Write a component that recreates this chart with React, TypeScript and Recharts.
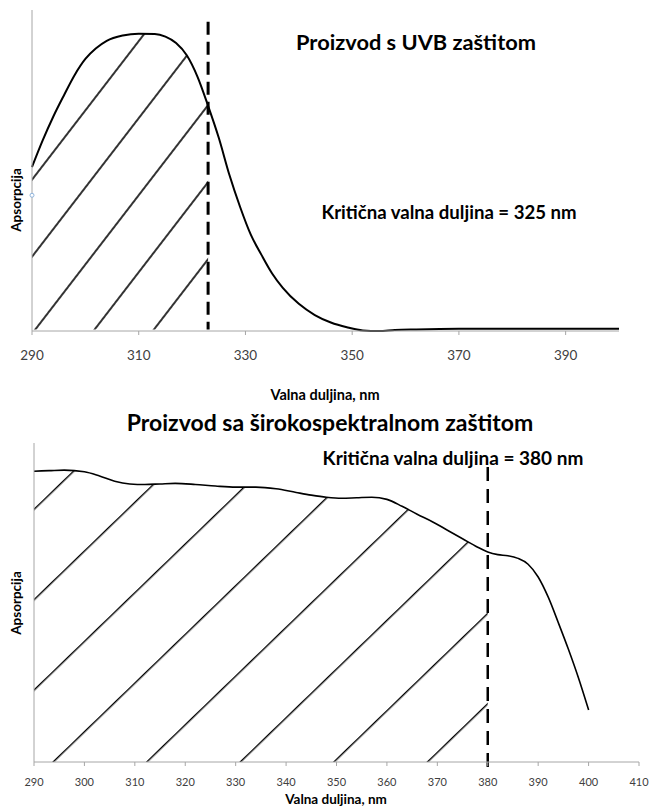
import React from 'react';
import { ComposedChart, Line, Area, XAxis, YAxis, ReferenceLine, ReferenceDot } from 'recharts';

// ---- Chart 1: UVB product ----
const uvbWavelengths = [290, 292, 294, 296, 298, 300, 302, 304, 307, 310, 313, 315, 317, 319, 321, 323, 325, 327, 329, 331, 333, 335, 337, 340, 343, 346, 349, 352, 355, 358, 362, 370, 380, 390, 400];
const uvbAbsorbance = [3.05, 3.55, 4.0, 4.4, 4.78, 5.08, 5.28, 5.42, 5.52, 5.555, 5.55, 5.5, 5.38, 5.15, 4.75, 4.2, 3.6, 2.9, 2.3, 1.78, 1.4, 1.05, 0.78, 0.48, 0.27, 0.13, 0.04, -0.02, -0.03, -0.01, 0, 0.01, 0.01, 0.01, 0.01];
const uvbTicks = [290, 310, 330, 350, 370, 390];
const uvbCritical = 323;
const uvbDashTop = 5.78;
const uvbMarkerValue = 2.52;

// ---- Chart 2: broad-spectrum product ----
const broadWavelengths = [290, 293, 296, 300, 303, 306, 309, 312, 315, 318, 322, 326, 330, 334, 338, 342, 345, 348, 351, 354, 357, 360, 363, 366, 369, 372, 375, 378, 380, 382, 384, 386, 388, 390, 392, 394, 396, 398, 400];
const broadAbsorbance = [5.47, 5.48, 5.49, 5.46, 5.38, 5.28, 5.23, 5.22, 5.23, 5.24, 5.22, 5.19, 5.17, 5.17, 5.14, 5.07, 5.02, 4.98, 4.96, 4.97, 4.98, 4.94, 4.81, 4.66, 4.52, 4.36, 4.2, 4.04, 3.95, 3.9, 3.88, 3.83, 3.72, 3.48, 3.1, 2.62, 2.12, 1.58, 0.98];
const broadTicks = [290, 300, 310, 320, 330, 340, 350, 360, 370, 380, 390, 400, 410];
const broadCritical = 380;
const broadDashTop = 5.55;
const broadDashBottom = -0.21;

const yTicks = [0, 1, 2, 3, 4, 5, 6];

const uvbData = uvbWavelengths.map((nm, i) => ({
  nm,
  abs: uvbAbsorbance[i],
  hatch: nm <= uvbCritical ? uvbAbsorbance[i] : null,
}));
const broadData = broadWavelengths.map((nm, i) => ({
  nm,
  abs: broadAbsorbance[i],
  hatch: nm <= broadCritical ? broadAbsorbance[i] : null,
}));

const FONT = 'Lato, "Open Sans", sans-serif';
const AXIS = '#a6a6a6';

const txt = (x: number, y: number, size: number, rotate = false): React.CSSProperties => ({
  position: 'absolute',
  left: x,
  top: y,
  transform: `translate(-50%, -50%)${rotate ? ' rotate(-90deg)' : ''}`,
  fontFamily: FONT,
  fontWeight: 700,
  fontSize: size,
  lineHeight: 1.15,
  whiteSpace: 'nowrap',
  color: '#000',
});

export default function App() {
  return (
    <div style={{ position: 'absolute', left: 0, top: 0, width: 649, height: 810, background: '#fff', overflow: 'hidden' }}>
      <div style={{ position: 'absolute', left: 0, top: 0 }}>
        <ComposedChart width={649} height={380} data={uvbData} margin={{ top: 10, right: 30, bottom: 19, left: 0 }}>
          <defs>
            <pattern id="hatchUvb" patternUnits="userSpaceOnUse" width={47} height={10} patternTransform="rotate(37.6)">
              <line x1={41} y1={-1} x2={41} y2={11} stroke="#000" strokeWidth={1.6} />
            </pattern>
          </defs>
          <XAxis
            type="number"
            dataKey="nm"
            domain={[290, 400]}
            ticks={uvbTicks}
            interval={0}
            height={30}
            tickSize={4}
            tickMargin={15}
            axisLine={{ stroke: AXIS }}
            tickLine={{ stroke: AXIS }}
            tick={{ fill: '#404040', fontSize: 13.5, fontFamily: FONT }}
          />
          <YAxis
            type="number"
            domain={[0, 6]}
            ticks={yTicks}
            width={32}
            tickSize={4}
            tick={false}
            axisLine={{ stroke: AXIS }}
            tickLine={{ stroke: AXIS }}
          />
          <Area dataKey="hatch" type="monotone" stroke="none" fill="url(#hatchUvb)" fillOpacity={1} dot={false} activeDot={false} isAnimationActive={false} />
          <Line dataKey="abs" type="monotone" stroke="#000" strokeWidth={2} dot={false} activeDot={false} isAnimationActive={false} />
          <ReferenceLine
            segment={[{ x: uvbCritical, y: uvbDashTop }, { x: uvbCritical, y: 0 }]}
            stroke="#000"
            strokeWidth={3}
            strokeDasharray="13 7"
            ifOverflow="visible"
          />
          <ReferenceDot x={290} y={uvbMarkerValue} r={2} fill="#fff" stroke="#8fb4dc" strokeWidth={1} ifOverflow="visible" />
        </ComposedChart>
      </div>

      <div style={{ position: 'absolute', left: 0, top: 380 }}>
        <ComposedChart width={649} height={430} data={broadData} margin={{ top: 63, right: 10, bottom: 18, left: 0 }}>
          <defs>
            <pattern id="hatchBroad" patternUnits="userSpaceOnUse" width={65} height={10} patternTransform="rotate(46)">
              <line x1={51.7} y1={-1} x2={51.7} y2={11} stroke="#000" strokeWidth={1.4} />
            </pattern>
          </defs>
          <XAxis
            type="number"
            dataKey="nm"
            domain={[290, 410]}
            ticks={broadTicks}
            interval={0}
            height={30}
            tickSize={4}
            tickMargin={12}
            axisLine={{ stroke: AXIS }}
            tickLine={{ stroke: AXIS }}
            tick={{ fill: '#404040', fontSize: 11, fontFamily: FONT }}
          />
          <YAxis
            type="number"
            domain={[0, 6]}
            ticks={yTicks}
            width={34}
            tickSize={4}
            tick={false}
            axisLine={{ stroke: AXIS }}
            tickLine={{ stroke: AXIS }}
          />
          <Area dataKey="hatch" type="monotone" stroke="none" fill="url(#hatchBroad)" fillOpacity={1} dot={false} activeDot={false} isAnimationActive={false} />
          <Line dataKey="abs" type="monotone" stroke="#000" strokeWidth={1.6} dot={false} activeDot={false} isAnimationActive={false} />
          <ReferenceLine
            segment={[{ x: broadCritical, y: broadDashTop }, { x: broadCritical, y: broadDashBottom }]}
            stroke="#000"
            strokeWidth={2.5}
            strokeDasharray="14 8"
            ifOverflow="visible"
          />
        </ComposedChart>
      </div>

      <div style={txt(416, 42, 21.8)}>Proizvod s UVB zaštitom</div>
      <div style={txt(449, 213, 18.6)}>Kritična valna duljina = 325 nm</div>
      <div style={txt(325, 395, 14.5)}>Valna duljina, nm</div>
      <div style={txt(17, 200, 13.5, true)}>Apsorpcija</div>

      <div style={txt(330, 422, 23)}>Proizvod sa širokospektralnom zaštitom</div>
      <div style={txt(453, 458, 19)}>Kritična valna duljina = 380 nm</div>
      <div style={txt(336, 800, 13.5)}>Valna duljina, nm</div>
      <div style={txt(17, 603, 13.5, true)}>Apsorpcija</div>
    </div>
  );
}
